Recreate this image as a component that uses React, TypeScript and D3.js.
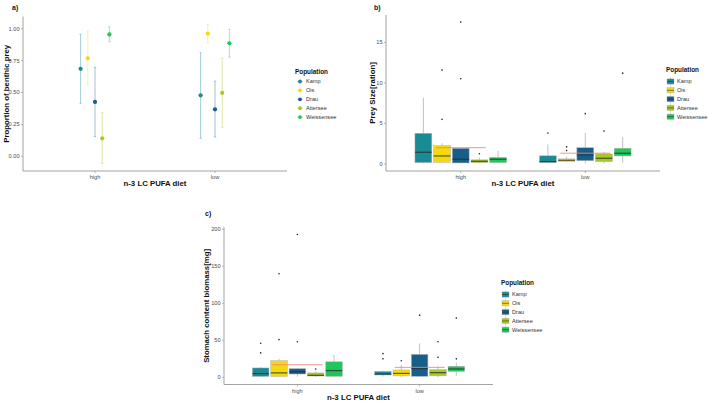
import React from "react";
import * as d3 from "d3";

const populations = ["Kamp", "Ois", "Drau", "Attersee", "Weissensee"];
const colors = ["#1a8a95", "#f5d90f", "#175e8a", "#a6c91e", "#1fc65a"];
const diets = ["high", "low"];

// Panel a: proportion of benthic prey (mean, lower, upper) per diet
const propMeanHigh = [0.686, 0.768, 0.426, 0.141, 0.955];
const propLowerHigh = [0.415, 0.559, 0.154, -0.055, 0.898];
const propUpperHigh = [0.956, 0.982, 0.697, 0.342, 1.016];
const propMeanLow = [0.478, 0.962, 0.368, 0.498, 0.886];
const propLowerLow = [0.141, 0.89, 0.151, 0.227, 0.776];
const propUpperLow = [0.812, 1.034, 0.59, 0.768, 0.995];
const propTicks = [0, 0.25, 0.5, 0.75, 1];

// Panel b: prey size [whiskerLow, q1, median, q3, whiskerHigh]
const preyHigh = [
  [0.05, 0.16, 1.44, 3.78, 8.2],
  [0.1, 0.2, 0.98, 2.25, 2.55],
  [0.05, 0.12, 0.58, 1.93, 2.0],
  [0.05, 0.15, 0.33, 0.5, 0.8],
  [0.05, 0.16, 0.58, 0.8, 1.6],
];
const preyLow = [
  [0.05, 0.16, 0.28, 1.0, 2.4],
  [0.2, 0.33, 0.45, 0.62, 0.9],
  [0.05, 0.4, 1.1, 2.0, 3.85],
  [0.05, 0.28, 0.7, 1.23, 1.5],
  [0.15, 0.98, 1.32, 1.93, 3.3],
];
const preyOutHigh = [[], [5.5, 11.6], [10.5, 17.5], [1.25], []];
const preyOutLow = [[3.8], [1.64, 2.1], [6.2], [4.05], [11.2]];
const preyMean = [2.0, 1.32];
const preyTicks = [0, 5, 10, 15];

// Panel c: stomach content biomass
const stomHigh = [
  [0.5, 1.3, 5, 12.7, 14],
  [0.5, 1.3, 6, 22.5, 25],
  [1, 4.5, 7.5, 11.7, 12.5],
  [0.5, 1.8, 2.8, 6, 8],
  [0.5, 1.4, 9, 21, 30.5],
];
const stomLow = [
  [1, 3.2, 4.5, 8, 9],
  [0.5, 2, 5.4, 10, 17],
  [0.5, 1.4, 11.7, 31, 46],
  [0.5, 2, 6.3, 10.4, 15],
  [2.3, 8, 11.3, 15, 20],
];
const stomOutHigh = [[33, 46], [51, 140], [48, 193], [11.3], []];
const stomOutLow = [[25, 32], [22.5], [84], [27, 48], [25, 80]];
const stomMean = [17, 13.5];
const stomTicks = [0, 50, 100, 150, 200];

const FONT = "'Liberation Sans', Arial, sans-serif";
const AXIS = "#8c8c8c";
const TICKTXT = "#4d4d4d";

type Frame = { x0: number; x1: number; y0: number; y1: number };

function Axes({ f, x, y, ticks, fmt, xTitle, yTitle, yTitleX, tag, tagX, tagY }: any) {
  return (
    <g fontFamily={FONT}>
      <line x1={f.x0} x2={f.x0} y1={f.y0} y2={f.y1} stroke={AXIS} strokeWidth={0.8} />
      <line x1={f.x0} x2={f.x1} y1={f.y1} y2={f.y1} stroke={AXIS} strokeWidth={0.8} />
      {ticks.map((t: number) => (
        <g key={t}>
          <line x1={f.x0 - 2} x2={f.x0} y1={y(t)} y2={y(t)} stroke={AXIS} strokeWidth={0.6} />
          <text x={f.x0 - 3.5} y={y(t)} dy="0.35em" textAnchor="end" fontSize={5.6} fill={TICKTXT}>
            {fmt(t)}
          </text>
        </g>
      ))}
      {diets.map((d) => (
        <g key={d}>
          <line x1={x(d)} x2={x(d)} y1={f.y1} y2={f.y1 + 2} stroke={AXIS} strokeWidth={0.6} />
          <text x={x(d)} y={f.y1 + 8} textAnchor="middle" fontSize={5.6} fill={TICKTXT}>
            {d}
          </text>
        </g>
      ))}
      <text x={(f.x0 + f.x1) / 2} y={f.y1 + 15} textAnchor="middle" fontSize={7.8} fontWeight="bold" fill="#111">
        {xTitle}
      </text>
      <text
        transform={`translate(${yTitleX},${(f.y0 + f.y1) / 2}) rotate(-90)`}
        textAnchor="middle"
        fontSize={7.8}
        fontWeight="bold"
        fill="#111"
      >
        {yTitle}
      </text>
      <text x={tagX} y={tagY} fontSize={7} fontWeight="bold" fill="#111">
        {tag}
      </text>
    </g>
  );
}

function BoxLegend({ lx, ly }: { lx: number; ly: number }) {
  return (
    <g fontFamily={FONT}>
      <text x={lx} y={ly} fontSize={6.4} fontWeight="bold" fill="#111">
        Population
      </text>
      {populations.map((p, i) => {
        const cy = ly + 9.5 + i * 8.8;
        return (
          <g key={p}>
            <line x1={lx + 4.5} x2={lx + 4.5} y1={cy - 4} y2={cy + 4} stroke="#999" strokeWidth={0.5} />
            <rect x={lx + 1} y={cy - 2.6} width={7} height={5.2} fill={colors[i]} stroke="#aaa" strokeWidth={0.4} />
            <line x1={lx + 1} x2={lx + 8} y1={cy} y2={cy} stroke="#333" strokeWidth={0.6} />
            <text x={lx + 11} y={cy} dy="0.35em" fontSize={5.6} fill="#333">
              {p}
            </text>
          </g>
        );
      })}
    </g>
  );
}

function BoxPanel({ f, domain, ticks, high, low, outHigh, outLow, means, yTitle, yTitleX, tag, tagX, tagY, lx, ly }: any) {
  const x = d3.scalePoint<string>().domain(diets).range([f.x0, f.x1]).padding(0.6 * 2 / 2.2 / (1 / 2.2) / 2);
  const xs = d3.scaleLinear().domain([0.4, 2.6]).range([f.x0, f.x1]);
  const xc = (d: string) => xs(diets.indexOf(d) + 1);
  const y = d3.scaleLinear().domain(domain).range([f.y1, f.y0]);
  const unit = xs(1) - xs(0);
  const band = 0.15 * unit;
  const bw = band * 0.9;
  const stats = [high, low];
  const outs = [outHigh, outLow];
  void x;
  return (
    <g>
      <Axes
        f={f}
        x={xc}
        y={y}
        ticks={ticks}
        fmt={(t: number) => d3.format("d")(t)}
        xTitle="n-3 LC PUFA diet"
        yTitle={yTitle}
        yTitleX={yTitleX}
        tag={tag}
        tagX={tagX}
        tagY={tagY}
      />
      {diets.map((d, di) => (
        <g key={d}>
          {populations.map((p, i) => {
            const [wl, q1, md, q3, wh] = stats[di][i];
            const cx = xc(d) + (i - 2) * band;
            return (
              <g key={p}>
                <line x1={cx} x2={cx} y1={y(q3)} y2={y(wh)} stroke="#999" strokeWidth={0.6} />
                <line x1={cx} x2={cx} y1={y(q1)} y2={y(wl)} stroke="#999" strokeWidth={0.6} />
                <rect
                  x={cx - bw / 2}
                  y={y(q3)}
                  width={bw}
                  height={Math.max(0.8, y(q1) - y(q3))}
                  fill={colors[i]}
                  stroke="#b0b0b0"
                  strokeWidth={0.5}
                />
                <line x1={cx - bw / 2} x2={cx + bw / 2} y1={y(md)} y2={y(md)} stroke="#2b2b2b" strokeWidth={0.9} />
                {outs[di][i].map((o: number, k: number) => (
                  <circle key={k} cx={cx} cy={y(o)} r={0.8} fill="#222" />
                ))}
              </g>
            );
          })}
          <line
            x1={xc(d) - 25}
            x2={xc(d) + 25}
            y1={y(means[di])}
            y2={y(means[di])}
            stroke="#f08080"
            strokeOpacity={0.85}
            strokeWidth={1}
          />
        </g>
      ))}
      <BoxLegend lx={lx} ly={ly} />
    </g>
  );
}

function PointPanel({ f }: { f: Frame }) {
  const xs = d3.scaleLinear().domain([0.4, 2.6]).range([f.x0, f.x1]);
  const xc = (d: string) => xs(diets.indexOf(d) + 1);
  const y = d3.scaleLinear().domain([-0.115, 1.095]).range([f.y1, f.y0]);
  const dodge = 0.06 * (xs(1) - xs(0));
  const means = [propMeanHigh, propMeanLow];
  const lows = [propLowerHigh, propLowerLow];
  const ups = [propUpperHigh, propUpperLow];
  const lx = 295;
  const ly = 74;
  return (
    <g>
      <Axes
        f={f}
        x={xc}
        y={y}
        ticks={propTicks}
        fmt={d3.format(".2f")}
        xTitle="n-3 LC PUFA diet"
        yTitle="Proportion of benthic prey"
        yTitleX={9}
        tag="a)"
        tagX={12}
        tagY={9.5}
      />
      {diets.map((d, di) =>
        populations.map((p, i) => {
          const cx = xc(d) + (i - 2) * dodge;
          return (
            <g key={d + p}>
              <line x1={cx} x2={cx} y1={y(lows[di][i])} y2={y(ups[di][i])} stroke={colors[i]} strokeOpacity={0.45} strokeWidth={0.9} />
              <line x1={cx - 1.3} x2={cx + 1.3} y1={y(lows[di][i])} y2={y(lows[di][i])} stroke={colors[i]} strokeOpacity={0.45} strokeWidth={0.7} />
              <line x1={cx - 1.3} x2={cx + 1.3} y1={y(ups[di][i])} y2={y(ups[di][i])} stroke={colors[i]} strokeOpacity={0.45} strokeWidth={0.7} />
              <circle cx={cx} cy={y(means[di][i])} r={2.1} fill={colors[i]} />
            </g>
          );
        })
      )}
      <g fontFamily={FONT}>
        <text x={lx} y={ly} fontSize={6.4} fontWeight="bold" fill="#111">
          Population
        </text>
        {populations.map((p, i) => {
          const cy = ly + 7.5 + i * 8.9;
          return (
            <g key={p}>
              <line x1={lx + 2} x2={lx + 8} y1={cy} y2={cy} stroke={colors[i]} strokeOpacity={0.5} strokeWidth={0.7} />
              <circle cx={lx + 5} cy={cy} r={1.9} fill={colors[i]} />
              <text x={lx + 11} y={cy} dy="0.35em" fontSize={5.6} fill="#333">
                {p}
              </text>
            </g>
          );
        })}
      </g>
    </g>
  );
}

export default function App() {
  const fa: Frame = { x0: 23, x1: 287, y0: 16.6, y1: 171 };
  const fb: Frame = { x0: 386, x1: 660, y0: 15, y1: 171 };
  const fc: Frame = { x0: 224, x1: 493, y0: 227.3, y1: 384.5 };
  return (
    <svg
      width={709}
      height={401}
      style={{ position: "absolute", left: 0, top: 0, background: "#fff" }}
    >
      <rect width={709} height={401} fill="#fff" />
      <PointPanel f={fa} />
      <BoxPanel
        f={fb}
        domain={[-0.875, 18.375]}
        ticks={preyTicks}
        high={preyHigh}
        low={preyLow}
        outHigh={preyOutHigh}
        outLow={preyOutLow}
        means={preyMean}
        yTitle="Prey Size[ration]"
        yTitleX={375}
        tag="b)"
        tagX={374}
        tagY={9.5}
        lx={666}
        ly={72}
      />
      <BoxPanel
        f={fc}
        domain={[-9.65, 202.65]}
        ticks={stomTicks}
        high={stomHigh}
        low={stomLow}
        outHigh={stomOutHigh}
        outLow={stomOutLow}
        means={stomMean}
        yTitle="Stomach content biomass[mg]"
        yTitleX={209}
        tag="c)"
        tagX={205}
        tagY={215.5}
        lx={501}
        ly={285}
      />
    </svg>
  );
}
